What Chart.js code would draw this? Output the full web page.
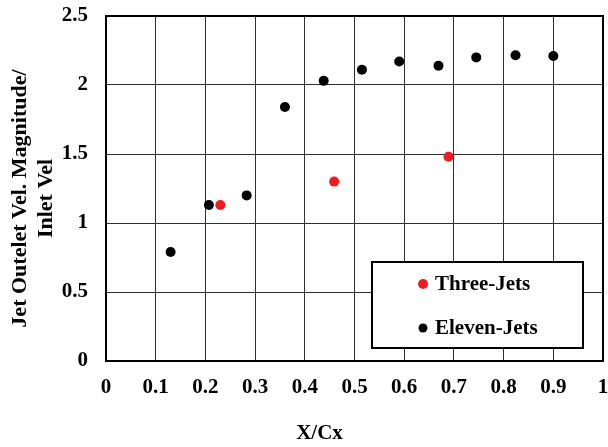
<!DOCTYPE html>
<html>
<head>
<meta charset="utf-8">
<script src="https://cdn.jsdelivr.net/npm/chart.js@4"></script>
<style>
  html, body { margin: 0; padding: 0; background: #fff; }
  #wrap { width: 608px; height: 447px; }
</style>
</head>
<body>
<div id="wrap"><canvas id="c" width="608" height="447"></canvas></div>
<script>
const threeX = [0.23, 0.459, 0.689];
const threeY = [1.13, 1.30, 1.48];
const elevenX = [0.13, 0.207, 0.283, 0.36, 0.438, 0.515, 0.59, 0.669, 0.745, 0.824, 0.90];
const elevenY = [0.79, 1.13, 1.20, 1.84, 2.03, 2.11, 2.17, 2.14, 2.20, 2.215, 2.21];
const seriesNames = ['Three-Jets', 'Eleven-Jets'];
const xTickLabels = ['0', '0.1', '0.2', '0.3', '0.4', '0.5', '0.6', '0.7', '0.8', '0.9', '1'];
const yTickLabels = ['0', '0.5', '1', '1.5', '2', '2.5'];
const xTitle = 'X/Cx';
const yTitle = ['Jet Outelet Vel. Magnitude/', 'Inlet Vel'];

const FONT = '"Liberation Serif", "Times New Roman", serif';
const RED = '#ED1C24';

const toPts = (xs, ys) => xs.map((x, i) => ({ x: x, y: ys[i] }));

const boxPlugin = {
  id: 'boxAndLegend',
  beforeDraw(chart) {
    const ctx = chart.ctx;
    ctx.save();
    ctx.fillStyle = '#fff';
    ctx.fillRect(0, 0, chart.width, chart.height);
    ctx.restore();
  },
  afterDatasetsDraw(chart) {
    const ctx = chart.ctx;
    const a = chart.chartArea;
    ctx.save();
    ctx.strokeStyle = '#000';
    ctx.lineWidth = 2;
    ctx.strokeRect(a.left, a.top, a.right - a.left, a.bottom - a.top);
    // legend box, anchored to the bottom-right of the plot area
    const w = 211, h = 86;
    const lx = a.right - 20 - w, ly = a.bottom - 13 - h;
    ctx.fillStyle = '#fff';
    ctx.fillRect(lx, ly, w, h);
    ctx.strokeRect(lx, ly, w, h);
    ctx.font = 'bold 21px ' + FONT;
    ctx.textBaseline = 'middle';
    ctx.textAlign = 'left';
    chart.data.datasets.forEach((ds, i) => {
      const cy = ly + 22 + i * 44;
      ctx.beginPath();
      ctx.fillStyle = ds.backgroundColor;
      ctx.arc(lx + 51, cy, i === 0 ? 5 : 4.5, 0, Math.PI * 2);
      ctx.fill();
      ctx.fillStyle = '#000';
      ctx.fillText(ds.label, lx + 63, cy + 1);
    });
    // axis titles, placed relative to the plot area (offset as in the original)
    ctx.fillStyle = '#000';
    ctx.textAlign = 'center';
    ctx.textBaseline = 'middle';
    ctx.font = 'bold 21px ' + FONT;
    ctx.fillText(xTitle, (a.left + a.right) / 2 - 35, chart.height - 13);
    ctx.font = 'bold 22px ' + FONT;
    ctx.translate(20, (a.top + a.bottom) / 2 + 10);
    ctx.rotate(-Math.PI / 2);
    yTitle.forEach((line, i) => ctx.fillText(line, 0, i * 26.4));
    ctx.restore();
  }
};

new Chart(document.getElementById('c'), {
  type: 'scatter',
  data: {
    datasets: [
      { label: seriesNames[0], data: toPts(threeX, threeY), backgroundColor: RED, borderColor: RED, pointRadius: 5, pointBorderWidth: 0 },
      { label: seriesNames[1], data: toPts(elevenX, elevenY), backgroundColor: '#000', borderColor: '#000', pointRadius: 5, pointBorderWidth: 0 }
    ]
  },
  options: {
    responsive: false,
    animation: false,
    devicePixelRatio: 1,
    layout: { padding: { top: 16, right: 4, left: 0, bottom: 0 } },
    plugins: { legend: { display: false }, tooltip: { enabled: false } },
    scales: {
      x: {
        type: 'linear', min: 0, max: 1,
        afterFit(s) { s.height = 86; s.paddingLeft = 0; s.paddingRight = 0; },
        grid: { color: '#303030', lineWidth: 1, drawTicks: false },
        border: { color: '#000', width: 2 },
        ticks: {
          stepSize: 0.1, padding: 14, color: '#000', maxRotation: 0,
          font: { family: FONT, size: 21, weight: 'bold' },
          callback: (v, i) => xTickLabels[i]
        },
        title: { display: false, text: xTitle }
      },
      y: {
        type: 'linear', min: 0, max: 2.5,
        afterFit(s) { s.width = 106; s.paddingTop = 0; s.paddingBottom = 0; },
        grid: { color: '#303030', lineWidth: 1, drawTicks: false },
        border: { color: '#000', width: 2 },
        ticks: {
          stepSize: 0.5, padding: 18, color: '#000',
          font: { family: FONT, size: 21, weight: 'bold' },
          callback: (v, i) => yTickLabels[i]
        },
        title: { display: false, text: yTitle }
      }
    }
  },
  plugins: [boxPlugin]
});
</script>
</body>
</html>
